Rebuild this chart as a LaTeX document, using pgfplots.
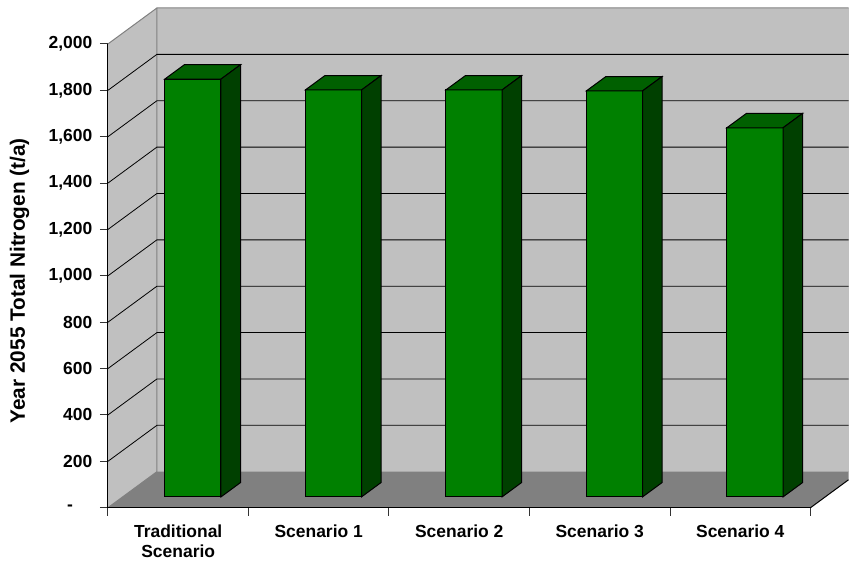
\documentclass[border=0pt]{standalone}
\usepackage{fontspec}
\setmainfont{Liberation Sans}
\usepackage{pgfplots}
\pgfplotsset{compat=1.18}
\usepackage{pgfplotstable}

\definecolor{wallgray}{HTML}{C0C0C0}
\definecolor{floorgray}{HTML}{808080}
\definecolor{edgegray}{HTML}{808080}
\definecolor{barfront}{HTML}{008000}
\definecolor{bartop}{HTML}{006000}
\definecolor{barside}{HTML}{004000}

\newcommand\labfont{\bfseries\fontsize{13.1}{15.6}\selectfont}
\newcommand\titfont{\bfseries\fontsize{15.6}{18}\selectfont}

% Year 2055 total nitrogen load per scenario (t/a)
\pgfplotstableread{
idx value
0 1802
1 1755
2 1755
3 1751
4 1592
}\nitrogen

% oblique depth of the chart box, in axis units
\def\DX{0.3485}
\def\DY{155.2}
% right edge of the visible area, and where the floor's right edge meets it
\def\XR{5.2703}
\pgfmathsetmacro\YF{(\XR-5)/\DX*\DY}
\pgfmathsetmacro\YT{2000+\DY}
% bar placement: gap before the bar, bar width, depth position and depth
\def\gap{0.3}
\def\bw{0.4}
\def\front{0.3}
\def\deep{0.4}

\begin{document}
\begin{tikzpicture}
\path (0,0) rectangle (636.75pt,423.75pt);
\begin{axis}[
  anchor=origin, at={(81pt,42.75pt)},
  x=105.45pt, y=0.174pt,
  xmin=0, xmax=5, ymin=0, ymax=2000,
  clip=false, axis on top,
  axis x line*=bottom, axis y line*=left,
  axis line style={black, line width=0.8pt},
  tick align=outside, major tick length=6pt,
  tick style={black!80, line width=0.75pt},
  xtick={0,...,5}, x tick label as interval,
  xticklabels={{Traditional\\Scenario},{Scenario 1},{Scenario 2},{Scenario 3},{Scenario 4}},
  xticklabel style={align=center, font=\labfont, yshift=-3pt},
  ytick={0,200,...,2000},
  yticklabels={{-\hphantom{00}},200,400,600,800,{1,000},{1,200},{1,400},{1,600},{1,800},{2,000}},
  yticklabel style={font=\labfont, xshift=-2.2pt},
  ylabel={Year 2055 Total Nitrogen (t/a)},
  every axis y label/.style={at={(axis description cs:-0.1181,0.4892)}, rotate=90, anchor=base, font=\titfont},
]
% walls and floor
\fill[wallgray] (axis cs:\DX,\DY) rectangle (axis cs:\XR,\YT);
\fill[wallgray] (axis cs:0,0) -- (axis cs:\DX,\DY) -- (axis cs:\DX,\YT) -- (axis cs:0,2000) -- cycle;
\fill[floorgray] (axis cs:0,0) -- (axis cs:5,0) -- (axis cs:\XR,\YF) -- (axis cs:\XR,\DY) -- (axis cs:\DX,\DY) -- cycle;
\draw[edgegray, line width=0.75pt] (axis cs:0,0) -- (axis cs:\DX,\DY) -- (axis cs:\DX,\YT);
\draw[edgegray, line width=0.75pt] (axis cs:0,2000) -- (axis cs:\DX,\YT) -- (axis cs:\XR,\YT);
\draw[black, line width=0.75pt] (axis cs:5,0) -- (axis cs:\XR,\YF);
% gridlines on the side wall and back wall
\pgfplotsinvokeforeach{200,400,...,1800}{
  \draw[black, line width=0.6pt] (axis cs:0,#1) -- (axis cs:\DX,{#1+\DY}) -- (axis cs:\XR,{#1+\DY});
}
% bars: front, top and side faces
\pgfplotsforeachungrouped \i in {0,...,4}{%
  \pgfplotstablegetelem{\i}{value}\of\nitrogen
  \let\val=\pgfplotsretval
  \pgfmathsetmacro\xa{\i+\gap+\front*\DX}
  \pgfmathsetmacro\xb{\xa+\bw}
  \pgfmathsetmacro\xc{\xb+\deep*\DX}
  \pgfmathsetmacro\xd{\xa+\deep*\DX}
  \pgfmathsetmacro\ya{\front*\DY}
  \pgfmathsetmacro\yb{\ya+\val}
  \pgfmathsetmacro\yc{\ya+\deep*\DY}
  \pgfmathsetmacro\yd{\yb+\deep*\DY}
  \edef\drawbar{%
    \noexpand\addplot[fill=barfront, draw=black, line width=0.75pt] coordinates {(\xa,\ya) (\xb,\ya) (\xb,\yb) (\xa,\yb)} -- cycle;
    \noexpand\addplot[fill=bartop, draw=black, line width=0.75pt] coordinates {(\xa,\yb) (\xb,\yb) (\xc,\yd) (\xd,\yd)} -- cycle;
    \noexpand\addplot[fill=barside, draw=black, line width=0.75pt] coordinates {(\xb,\ya) (\xc,\yc) (\xc,\yd) (\xb,\yb)} -- cycle;
  }\drawbar
}
\end{axis}
\end{tikzpicture}
\end{document}
